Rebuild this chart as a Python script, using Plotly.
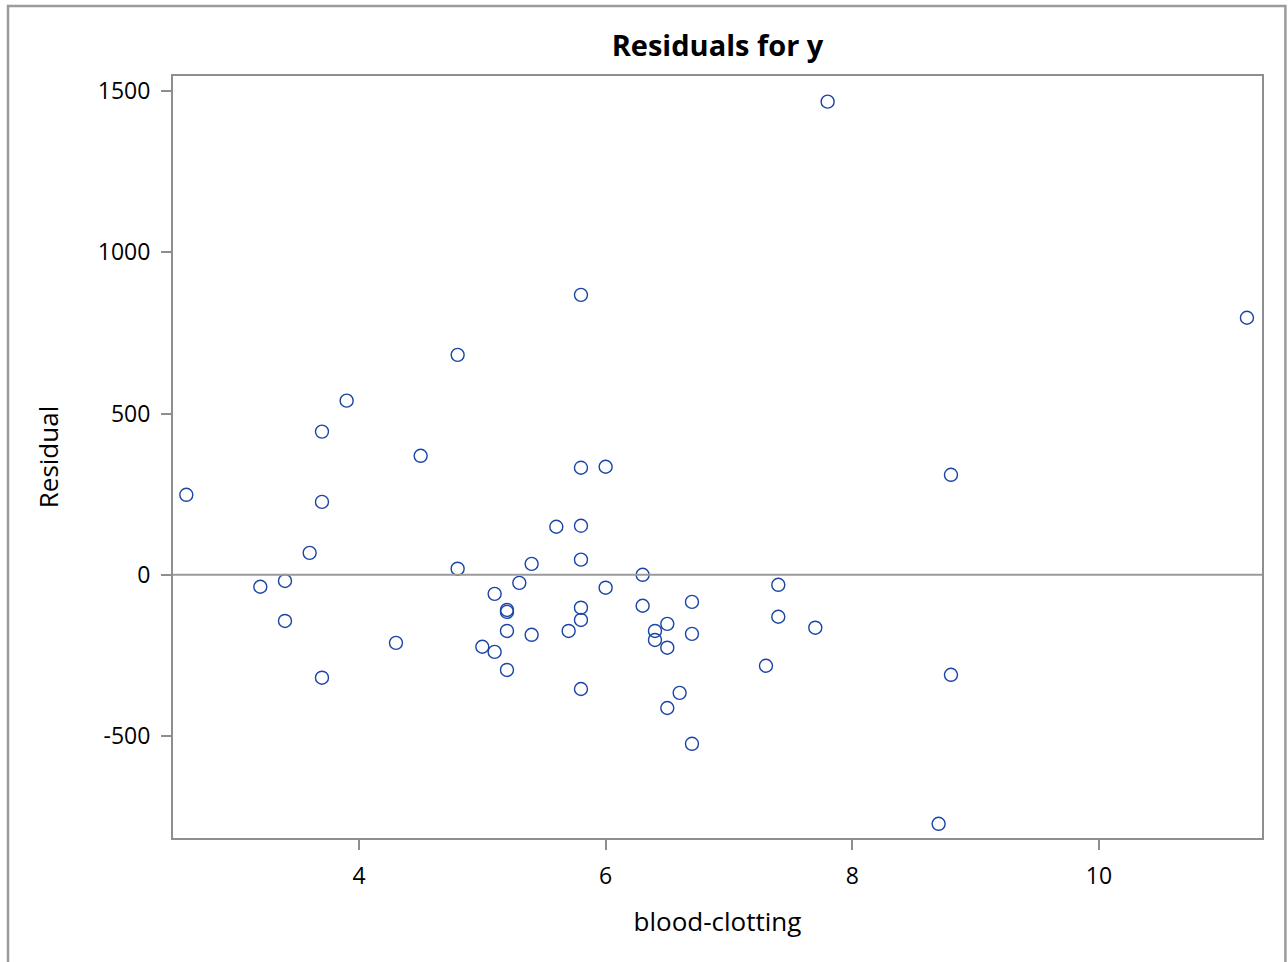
import plotly.graph_objects as go

blood_clotting = [2.6, 3.2, 3.4, 3.4, 3.6, 3.7, 3.7, 3.7, 3.9, 4.3, 4.5, 4.8, 4.8, 5.0,
                  5.1, 5.1, 5.2, 5.2, 5.2, 5.2, 5.3, 5.4, 5.4, 5.6, 5.7, 5.8, 5.8, 5.8,
                  5.8, 5.8, 5.8, 5.8, 6.0, 6.0, 6.3, 6.3, 6.4, 6.4, 6.5, 6.5, 6.5, 6.6,
                  6.7, 6.7, 6.7, 7.3, 7.4, 7.4, 7.7, 7.8, 8.7, 8.8, 8.8, 11.2]
residual = [248, -37, -19, -143, 68, 444, 226, -319, 540, -211, 369, 682, 19, -223,
            -59, -239, -109, -115, -174, -295, -25, 34, -186, 149, -174, 868, 332, 152,
            47, -102, -140, -354, 335, -40, 0, -96, -174, -202, -152, -226, -413, -366,
            -84, -183, -524, -282, -31, -130, -164, 1467, -772, 310, -310, 797]

x_ticks = [4, 6, 8, 10]
y_ticks = [-500, 0, 500, 1000, 1500]
y_tick_labels = ["-500", "0", "500", "1000", "1500"]

FONT = "Open Sans, DejaVu Sans, sans-serif"
GRAY = "#8c8e91"

fig = go.Figure()
fig.add_trace(go.Scatter(
    x=blood_clotting, y=residual, mode="markers",
    marker=dict(symbol="circle-open", size=13, color="#1a44a6", line=dict(width=1.4)),
    showlegend=False,
))

fig.add_hline(y=0, line=dict(color="#9a9a9a", width=2))

# outer frame (no bottom edge visible)
fig.add_shape(type="path", xref="paper", yref="paper",
              path="M -0.1515,-0.2 L -0.1515,1.0919 L 1.0215,1.0919 L 1.0215,-0.2",
              line=dict(color="#9b9b9b", width=2.5))

fig.update_layout(
    width=1288, height=962,
    margin=dict(l=173, r=26, t=76, b=124),
    paper_bgcolor="white", plot_bgcolor="white",
    font=dict(family=FONT, color="black", size=23),
    title=dict(text="<b>Residuals for y</b>", x=0.5, xref="paper", xanchor="center",
               y=1 - 46 / 962, yanchor="middle", font=dict(size=29, family=FONT)),
)
fig.update_xaxes(
    range=[2.492, 11.322], tickvals=x_ticks, ticks="outside", ticklen=10, tickwidth=2,
    tickcolor=GRAY, showline=True, linecolor=GRAY, linewidth=2, mirror=True,
    showgrid=False, zeroline=False, ticklabelstandoff=6,
    title=dict(text="blood-clotting", font=dict(size=26), standoff=23),
    tickfont=dict(size=23),
)
fig.update_yaxes(
    range=[-816, 1546.5], tickvals=y_ticks, ticktext=y_tick_labels, ticks="outside",
    ticklen=10, tickwidth=2,
    tickcolor=GRAY, showline=True, linecolor=GRAY, linewidth=2, mirror=True,
    showgrid=False, zeroline=False, ticklabelstandoff=6,
    title=dict(text="Residual", font=dict(size=26), standoff=32),
    tickfont=dict(size=23),
)

fig.write_html(
    "out.html",
    config={"displayModeBar": False},
    post_script="document.body.style.margin='0';document.body.style.overflow='hidden';",
)
